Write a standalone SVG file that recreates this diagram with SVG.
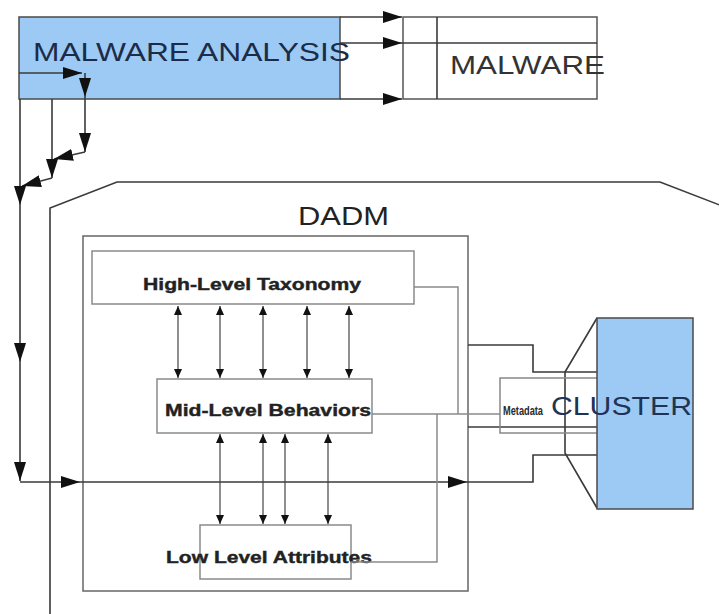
<svg xmlns="http://www.w3.org/2000/svg" width="719" height="614" viewBox="0 0 719 614">
<style>
.bg{fill:#ffffff}
.blue{fill:#9ccaf4;stroke:#4a4a4a;stroke-width:1.5}
.box{fill:#ffffff;stroke:#555;stroke-width:1.5}
.gbox{fill:#ffffff;stroke:#8a8a8a;stroke-width:1.5}
.ln{fill:none;stroke:#3a3a3a;stroke-width:1.6}
.gl{fill:none;stroke:#8a8a8a;stroke-width:1.5}
.da{fill:none;stroke:#444;stroke-width:1.2}
.big{font-family:"Liberation Sans",Arial,sans-serif;font-size:26px}
.lbl{font-family:"Liberation Sans",Arial,sans-serif;font-size:17px;font-weight:700;fill:#222;stroke:#222;stroke-width:0.4}
</style>
<defs>
<marker id="ah" markerUnits="userSpaceOnUse" markerWidth="20" markerHeight="12" refX="19" refY="6" orient="auto"><path d="M0,0 L19,6 L0,12 z" fill="#111"/></marker>
<marker id="sh" markerUnits="userSpaceOnUse" markerWidth="9" markerHeight="8" refX="9" refY="4" orient="auto-start-reverse"><path d="M0,0 L9,4 L0,8 z" fill="#111"/></marker>
</defs>
<rect class="bg" x="0" y="0" width="719" height="614"/>

<g id="dadm">
<path class="ln" d="M50,620 L50,208 L117,182 L660,182 L730,209"/>
<text class="big" x="298" y="225" textLength="91" lengthAdjust="spacingAndGlyphs" fill="#222">DADM</text>
<rect x="83" y="236" width="385" height="355" fill="none" stroke="#666" stroke-width="1.5"/>
</g>

<g id="malware-analysis">
<rect class="blue" x="19" y="17" width="321" height="82"/>
<text class="big" x="33" y="61" textLength="317" lengthAdjust="spacingAndGlyphs" fill="#1c2c48">MALWARE ANALYSIS</text>
</g>

<g id="malware">
<rect class="box" x="403" y="17" width="194" height="82"/>
<line class="ln" x1="437" y1="17" x2="437" y2="99"/>
<text class="big" x="450" y="74" textLength="155" lengthAdjust="spacingAndGlyphs" fill="#333">MALWARE</text>
</g>

<g id="high-level">
<rect class="gbox" x="92" y="251" width="322" height="53"/>
<text class="lbl" x="143" y="290" textLength="218" lengthAdjust="spacingAndGlyphs">High-Level Taxonomy</text>
</g>

<g id="mid-level">
<rect class="gbox" x="157" y="379" width="215" height="54"/>
<text class="lbl" x="165" y="416" textLength="206" lengthAdjust="spacingAndGlyphs">Mid-Level Behaviors</text>
</g>

<g id="low-level">
<rect class="gbox" x="200" y="525" width="151" height="54"/>
<text class="lbl" x="166" y="563" textLength="206" lengthAdjust="spacingAndGlyphs">Low Level Attributes</text>
</g>

<g id="connectors">
<line class="ln" x1="340" y1="17" x2="402" y2="17" marker-end="url(#ah)"/>
<line class="ln" x1="340" y1="43" x2="402" y2="43" marker-end="url(#ah)"/>
<line class="ln" x1="402" y1="43" x2="597" y2="43"/>
<line class="ln" x1="340" y1="99" x2="402" y2="99" marker-end="url(#ah)"/>
<line class="ln" x1="19" y1="73" x2="82" y2="73" marker-end="url(#ah)"/>
<line class="ln" x1="85" y1="73" x2="85" y2="97" marker-end="url(#ah)"/>
<line class="ln" x1="85" y1="97" x2="85" y2="152" marker-end="url(#ah)"/>
<line class="ln" x1="85" y1="152" x2="54" y2="159" marker-end="url(#ah)"/>
<line class="ln" x1="52" y1="99" x2="52" y2="178" marker-end="url(#ah)"/>
<line class="ln" x1="52" y1="178" x2="22" y2="186" marker-end="url(#ah)"/>
<line class="ln" x1="20" y1="99" x2="20" y2="205" marker-end="url(#ah)"/>
<line class="ln" x1="20" y1="205" x2="20" y2="362" marker-end="url(#ah)"/>
<line class="ln" x1="20" y1="362" x2="20" y2="481" marker-end="url(#ah)"/>
<line class="ln" x1="20" y1="482" x2="80" y2="482" marker-end="url(#ah)"/>
<line class="ln" x1="80" y1="482" x2="467" y2="482" marker-end="url(#ah)"/>
<polyline class="ln" points="467,482 533,482 533,455 597,455"/>
<line class="da" x1="178" y1="306" x2="178" y2="378" marker-start="url(#sh)" marker-end="url(#sh)"/>
<line class="da" x1="220" y1="306" x2="220" y2="378" marker-start="url(#sh)" marker-end="url(#sh)"/>
<line class="da" x1="263" y1="306" x2="263" y2="378" marker-start="url(#sh)" marker-end="url(#sh)"/>
<line class="da" x1="307" y1="306" x2="307" y2="378" marker-start="url(#sh)" marker-end="url(#sh)"/>
<line class="da" x1="349" y1="306" x2="349" y2="378" marker-start="url(#sh)" marker-end="url(#sh)"/>
<line class="da" x1="220" y1="434" x2="220" y2="524" marker-start="url(#sh)" marker-end="url(#sh)"/>
<line class="da" x1="263" y1="434" x2="263" y2="524" marker-start="url(#sh)" marker-end="url(#sh)"/>
<line class="da" x1="285" y1="434" x2="285" y2="524" marker-start="url(#sh)" marker-end="url(#sh)"/>
<line class="da" x1="328" y1="434" x2="328" y2="524" marker-start="url(#sh)" marker-end="url(#sh)"/>
<polyline class="gl" points="414,287 458,287 458,414"/>
<line class="gl" x1="372" y1="414" x2="500" y2="414"/>
<polyline class="gl" points="351,562 437,562 437,414"/>
<polyline class="ln" points="468,345 533,345 533,372 597,372"/>
<line class="ln" x1="468" y1="427" x2="597" y2="427"/>
<path class="ln" d="M597,318 L565,372 L565,453 L597,508"/>
</g>

<g id="metadata">
<rect x="500" y="378" width="100" height="55" fill="none" stroke="#888" stroke-width="1.5"/>
<text x="503" y="415" font-family="'Liberation Sans',Arial,sans-serif" font-size="12" font-weight="700" fill="#2a2a2a" textLength="40" lengthAdjust="spacingAndGlyphs">Metadata</text>
</g>

<g id="cluster">
<rect class="blue" x="597" y="318" width="96" height="191"/>
<text x="551" y="415" font-family="'Liberation Sans',Arial,sans-serif" font-size="25" fill="#1f3357" textLength="141" lengthAdjust="spacingAndGlyphs">CLUSTER</text>
</g>
</svg>
